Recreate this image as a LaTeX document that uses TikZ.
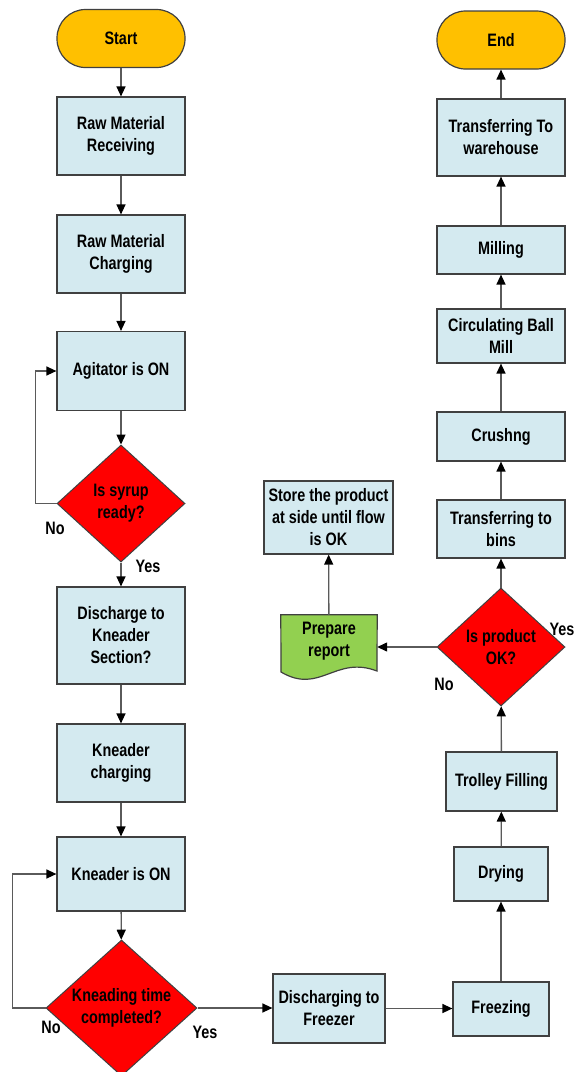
\documentclass[tikz,border=0pt]{standalone}
\usepackage{fontspec}
\setmainfont{Liberation Sans}[FakeStretch=0.8]
\usepackage{tikz}
\usetikzlibrary{arrows.meta}
\usetikzlibrary{shapes.geometric}
\usetikzlibrary{positioning}

\definecolor{boxblue}{RGB}{212,234,240}
\definecolor{termorange}{RGB}{255,192,0}
\definecolor{docgreen}{RGB}{146,208,80}
\definecolor{edgegray}{RGB}{64,64,64}
\definecolor{linegray}{RGB}{90,90,90}

\begin{document}
\begin{tikzpicture}[x=1pt,y=-1pt,
	every node/.style={font=\bfseries\fontsize{18}{22}\selectfont, align=center},
	process/.style={rectangle, draw=edgegray, line width=1.2pt, fill=boxblue, minimum width=128pt, inner sep=0pt},
	terminal/.style={rectangle, rounded corners=28.5pt, draw=edgegray, line width=1.2pt, fill=termorange, minimum width=128pt, minimum height=58pt},
	decision/.style={diamond, draw=edgegray, line width=1pt, fill=red, inner sep=0pt},
	flow/.style={draw=linegray, line width=1.3pt, -{Triangle[length=10pt,width=9pt,color=black]}}
	]
	\useasboundingbox (0,0) rectangle (577,1072);

	% left column
	\node[terminal] (start) at (121,38.5) {Start};
	\node[process, minimum height=78pt] (recv) at (121,136) {Raw Material\\Receiving};
	\node[process, minimum height=78pt] (chrg) at (121,254) {Raw Material\\Charging};
	\node[process, minimum height=79pt] (agit) at (121,371) {Agitator is ON};
	\node[decision, minimum width=128pt, minimum height=117pt, label=center:{Is syrup\\ready?}] (syrup) at (121,503.5) {};
	\node[process, minimum height=97pt] (disch) at (121,635.5) {Discharge to\\Kneader\\Section?};
	\node[process, minimum height=78pt] (kchrg) at (121,763) {Kneader\\charging};
	\node[process, minimum height=74pt] (kon) at (121,874) {Kneader is ON};
	\node[decision, minimum width=151pt, minimum height=136pt, label=center:{Kneading time\\completed?}] (knead) at (121.5,1008) {};

	% bottom row
	\node[process, minimum width=112pt, minimum height=69pt] (frzdis) at (329,1008.5) {Discharging to\\Freezer};
	\node[process, minimum width=96pt, minimum height=54pt] (freeze) at (501,1009) {Freezing};

	% right column
	\node[process, minimum width=94pt, minimum height=54pt] (dry) at (501,874) {Drying};
	\node[process, minimum width=111pt, minimum height=59pt] (trolley) at (501.5,781.5) {Trolley Filling};
	\node[decision, minimum width=128pt, minimum height=118pt, label=center:{Is product\\OK?}] (ok) at (501,647) {};
	\node[process, minimum height=58pt] (bins) at (501,529) {Transferring to\\bins};
	\node[process, minimum height=49pt] (crush) at (501,436.5) {Crushng};
	\node[process, minimum height=54pt] (ballmill) at (501,336) {Circulating Ball\\Mill};
	\node[process, minimum height=48pt] (mill) at (501,250) {Milling};
	\node[process, minimum height=77pt] (wareh) at (501,137.5) {Transferring To\\warehouse};
	\node[terminal] (end) at (501,40) {End};

	% report branch
	\node[process, minimum width=129pt, minimum height=73pt] (store) at (328.5,517.5) {Store the product\\at side until flow\\is OK};
	\node[minimum width=96pt, minimum height=52pt, inner sep=0pt] (prep) at (329,641) {};
	\draw[draw=edgegray, line width=1.2pt, fill=docgreen] (prep.north west) -- (prep.north east) -- (377,671)
		.. controls (335,655) and (320,695) .. (281,672) -- cycle;
	\node at (prep) {Prepare\\report};

	% connectors
	\draw[flow] (start) -- (recv);
	\draw[flow] (recv) -- (chrg);
	\draw[flow] (chrg) -- (agit);
	\draw[flow] (agit) -- (syrup);
	\draw[flow] (syrup) -- (disch);
	\draw[flow] (syrup.west) -- ++(-21,0) |- (agit.west);
	\draw[flow] (disch) -- (kchrg);
	\draw[flow] (kchrg) -- (kon);
	\draw[flow] (kon) -- (knead);
	\draw[flow] (knead.west) -- ++(-33,0) |- (kon.west);
	\draw[flow] (knead.east) -- (knead.east -| frzdis.west);
	\draw[flow] (frzdis.east) -- (frzdis.east -| freeze.west);
	\draw[flow] (freeze) -- (dry);
	\draw[flow] (dry) -- (trolley);
	\draw[flow] (trolley) -- (ok);
	\draw[flow] (ok) -- (bins);
	\draw[flow] (bins) -- (crush);
	\draw[flow] (crush) -- (ballmill);
	\draw[flow] (ballmill) -- (mill);
	\draw[flow] (mill) -- (wareh);
	\draw[flow] (wareh) -- (end);
	\draw[flow] (ok.west) -- (ok.west -| prep.east);
	\draw[flow] (prep) -- (store);

	% branch labels
	\node (no1) at (55,528) {No};
	\node (yes1) at (148,566) {Yes};
	\node (no2) at (51,1027) {No};
	\node (yes2) at (205,1032) {Yes};
	\node (yes3) at (562,629) {Yes};
	\node (no3) at (444,684) {No};
\end{tikzpicture}
\end{document}
